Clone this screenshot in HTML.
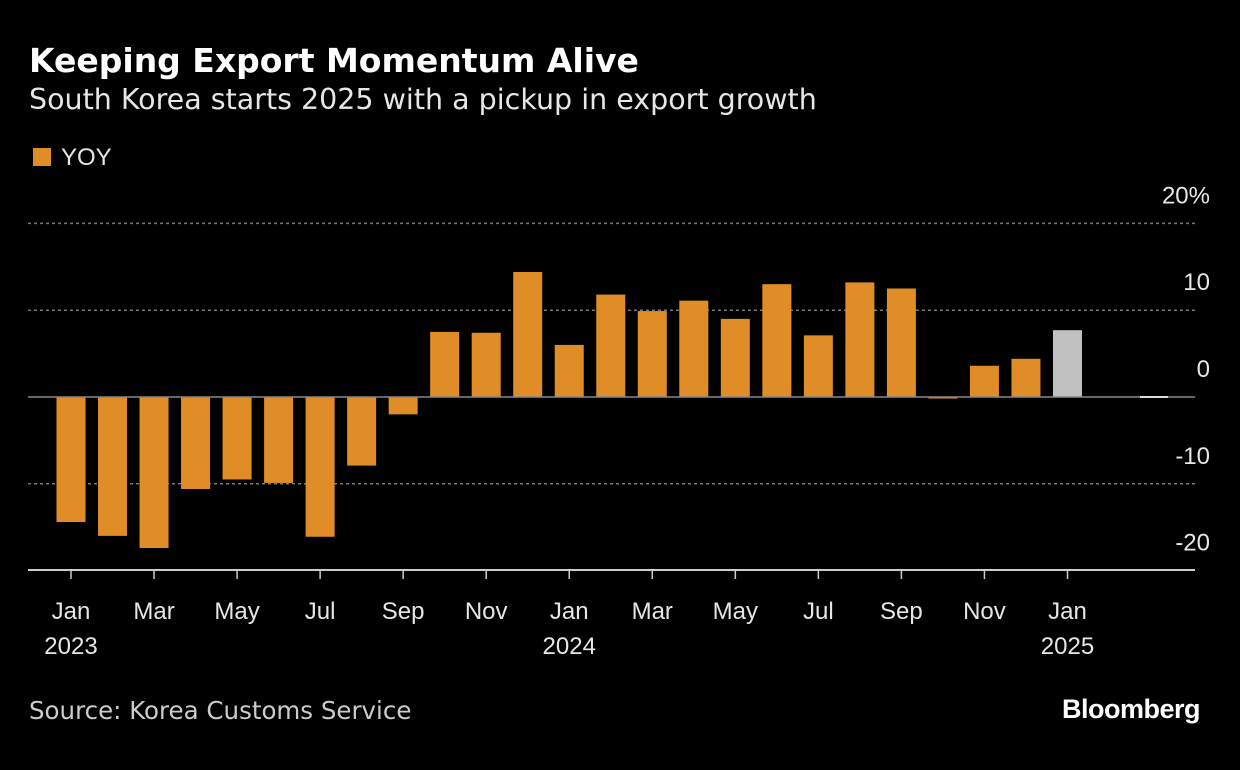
<!DOCTYPE html>
<html><head><meta charset="utf-8"><style>
body{margin:0;background:#000;width:1240px;height:770px;overflow:hidden;font-family:"Liberation Sans",sans-serif;color:#fff}
.t{position:absolute;left:29px;top:41px;font-size:33px;font-weight:bold;font-family:"DejaVu Sans",sans-serif}
.s{position:absolute;left:29px;top:83px;font-size:28.5px;color:#e6e6e6;font-family:"DejaVu Sans",sans-serif}
.lg{position:absolute;left:33px;top:144px;font-size:24px;color:#e6e6e6}
.lg span{display:inline-block;width:18px;height:18px;background:#e08d27;margin-right:10px;vertical-align:-1px}
.src{position:absolute;left:29px;top:696px;font-size:24.5px;color:#ccc;font-family:"DejaVu Sans",sans-serif}
.bb{position:absolute;right:40px;top:694px;font-size:27px;font-weight:bold;letter-spacing:-0.5px}
</style></head><body>
<div class="t">Keeping Export Momentum Alive</div>
<div class="s">South Korea starts 2025 with a pickup in export growth</div>
<div class="lg"><span></span>YOY</div>
<svg id="c" width="1240" height="770" style="position:absolute;left:0;top:0"></svg>
<div class="src">Source: Korea Customs Service</div>
<div class="bb">Bloomberg</div>
<script>
const values=[-14.4,-16.0,-17.4,-10.6,-9.5,-9.9,-16.1,-7.9,-2.0,7.5,7.4,14.4,6.0,11.8,9.9,11.1,9.0,13.0,7.1,13.2,12.5,-0.1,3.6,4.4,7.7];
const monthLabels=["Jan","Mar","May","Jul","Sep","Nov","Jan","Mar","May","Jul","Sep","Nov","Jan"];
const yearLabels=["2023","","","","","","2024","","","","","","2025"];
const yTicks=[20,10,0,-10,-20];
const yTickLabels=["20%","10","0","-10","-20"];
const svg=document.getElementById('c');const NS='http://www.w3.org/2000/svg';
const y=v=>397-v*8.68;const x=i=>71+i*41.52;
function mk(t,a,txt){const e=document.createElementNS(NS,t);for(const k in a)e.setAttribute(k,a[k]);if(txt!==undefined)e.textContent=txt;svg.appendChild(e);return e;}
yTicks.forEach((v,i)=>{
 if(v!==0&&v!==-20){const g=mk('line',{x1:28,x2:1195,y1:y(v),y2:y(v),stroke:'#777','stroke-width':1.5,'stroke-dasharray':'3,3'});
 
 }
 const t=mk('text',{x:1210,y:y(v)-20,'text-anchor':'end','font-size':24,fill:'#e6e6e6'},yTickLabels[i]);
 
 
});
values.forEach((v,i)=>{
 const top=Math.min(y(v),y(0)),h=Math.max(Math.abs(y(v)-y(0)),1.5);
 const r=mk('rect',{x:x(i)-14.5,y:top,width:29,height:h,fill:i>=24?'#c0c0c0':'#e08d27'});
 
 
});
const z=mk('line',{x1:28,x2:1195,y1:y(0),y2:y(0),stroke:'#888','stroke-width':1.5});


const zl=mk('line',{x1:1140,x2:1168,y1:y(0),y2:y(0),stroke:'#ddd','stroke-width':2});


const ax=mk('line',{x1:28,x2:1195,y1:570,y2:570,stroke:'#ccc','stroke-width':2});


monthLabels.forEach((m,j)=>{
 const xx=x(j*2);
 const tk=mk('line',{x1:xx,x2:xx,y1:570,y2:579,stroke:'#ccc','stroke-width':1.5});
 
 
 const t=mk('text',{x:xx,y:619,'text-anchor':'middle','font-size':24,fill:'#e6e6e6'},m);
 
 
 if(yearLabels[j]){const yt=mk('text',{x:xx,y:654,'text-anchor':'middle','font-size':24,fill:'#e6e6e6'},yearLabels[j]);
 
 }
});
</script>
</body></html>
